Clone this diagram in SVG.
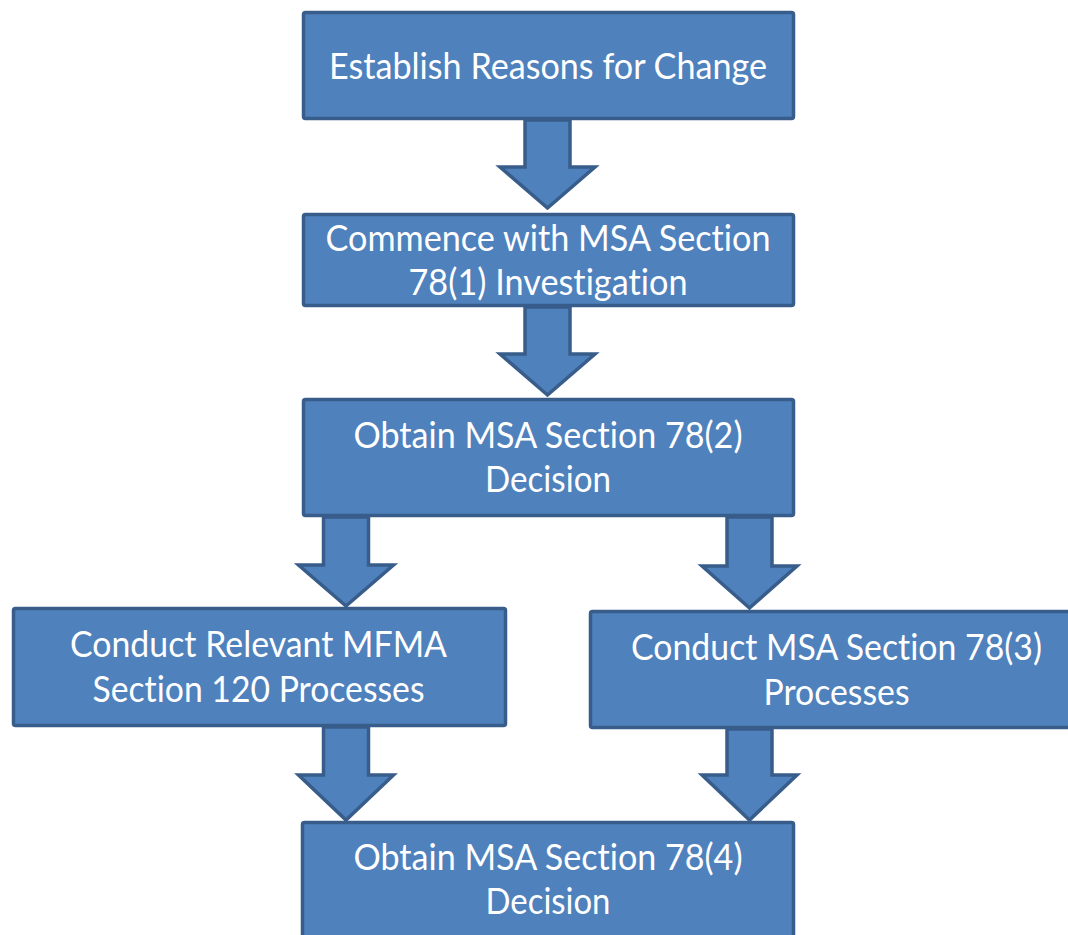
<svg xmlns="http://www.w3.org/2000/svg" width="1068" height="935" viewBox="0 0 1068 935">
  <style>
    .box { fill: #4F81BD; stroke: #385D8A; stroke-width: 3.5; }
    .arrow { fill: #4F81BD; stroke: #385D8A; stroke-width: 3.5; stroke-linejoin: miter; }
    .label { font-family: Lato, "Open Sans", "Liberation Sans", sans-serif; font-size: 37px; fill: #FFFFFF; text-anchor: middle; font-variant-ligatures: none; font-feature-settings: "liga" 0, "clig" 0; }
  </style>
  <rect width="1068" height="935" fill="#FFFFFF"/>

  <!-- block arrows between steps -->
  <g id="connectors">
    <polygon class="arrow" points="525,120 570,120 570,167 595,167 547.5,208 500,167 525,167"/>
    <polygon class="arrow" points="525,307 570,307 570,354 595,354 547.5,395 500,354 525,354"/>
    <polygon class="arrow" points="323.5,517 368.5,517 368.5,565 393.5,565 346,606 298.5,565 323.5,565"/>
    <polygon class="arrow" points="727,517 772,517 772,566 797,566 749.5,608 702,566 727,566"/>
    <polygon class="arrow" points="323.5,727 368.5,727 368.5,775 393.5,775 346,820 298.5,775 323.5,775"/>
    <polygon class="arrow" points="727,729 772,729 772,775 797,775 749.5,820 702,775 727,775"/>
  </g>

  <g id="step-establish">
    <rect class="box" x="303.5" y="12.5" width="490" height="106" rx="2"/>
    <text class="label" x="548" y="79" textLength="438" lengthAdjust="spacingAndGlyphs">Establish Reasons for Change</text>
  </g>

  <g id="step-commence">
    <rect class="box" x="303.5" y="214.5" width="490" height="91" rx="2"/>
    <text class="label" x="548" y="251" textLength="445" lengthAdjust="spacingAndGlyphs">Commence with MSA Section</text>
    <text class="label" x="548" y="295" textLength="279" lengthAdjust="spacingAndGlyphs">78(1) Investigation</text>
  </g>

  <g id="step-decision-2">
    <rect class="box" x="303.5" y="399.5" width="490" height="116" rx="2"/>
    <text class="label" x="548" y="448" textLength="389" lengthAdjust="spacingAndGlyphs">Obtain MSA Section 78(2)</text>
    <text class="label" x="548" y="492" textLength="126" lengthAdjust="spacingAndGlyphs">Decision</text>
  </g>

  <g id="step-mfma-120">
    <rect class="box" x="13.5" y="608.5" width="492" height="117" rx="2"/>
    <text class="label" x="258.5" y="657" textLength="377" lengthAdjust="spacingAndGlyphs">Conduct Relevant MFMA</text>
    <text class="label" x="258.5" y="702" textLength="332" lengthAdjust="spacingAndGlyphs">Section 120 Processes</text>
  </g>

  <g id="step-msa-78-3">
    <rect class="box" x="590.5" y="611.5" width="494" height="116" rx="2"/>
    <text class="label" x="836.5" y="660" textLength="411" lengthAdjust="spacingAndGlyphs">Conduct MSA Section 78(3)</text>
    <text class="label" x="836.5" y="705" textLength="146" lengthAdjust="spacingAndGlyphs">Processes</text>
  </g>

  <g id="step-decision-4">
    <rect class="box" x="302.5" y="822.5" width="491" height="130" rx="2"/>
    <text class="label" x="548" y="870" textLength="389" lengthAdjust="spacingAndGlyphs">Obtain MSA Section 78(4)</text>
    <text class="label" x="548" y="914" textLength="125" lengthAdjust="spacingAndGlyphs">Decision</text>
  </g>
</svg>
